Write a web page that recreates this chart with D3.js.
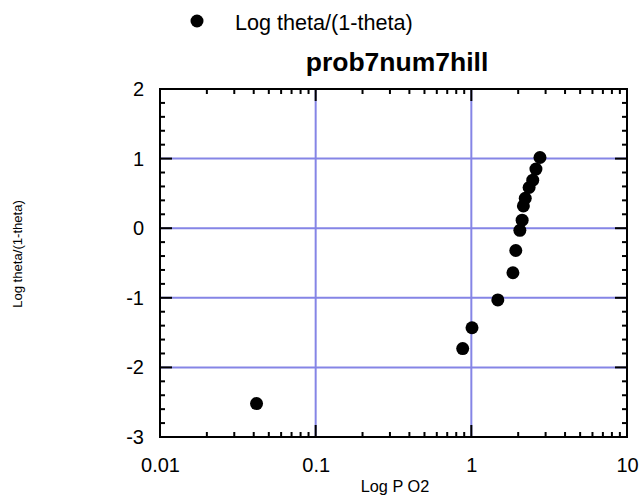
<!DOCTYPE html>
<html><head><meta charset="utf-8">
<script src="https://cdn.jsdelivr.net/npm/d3@7"></script>
<style>body{margin:0;background:#fff}svg{display:block;font-family:Arial,"Liberation Sans",sans-serif}</style>
</head><body>
<script>
const title = "prob7num7hill";
const seriesName = "Log theta/(1-theta)";
const xLabel = "Log P O2";
const yLabel = "Log theta/(1-theta)";
const xValues = [0.0417, 0.88, 1.01, 1.48, 1.85, 1.93, 2.05, 2.12, 2.16, 2.22, 2.35, 2.48, 2.60, 2.76];
const yValues = [-2.52, -1.73, -1.43, -1.03, -0.64, -0.32, -0.03, 0.115, 0.32, 0.43, 0.585, 0.69, 0.85, 1.016];
const xTickValues = [0.01, 0.1, 1, 10];
const xTickLabels = ["0.01", "0.1", "1", "10"];
const yTickValues = [-3, -2, -1, 0, 1, 2];
const yTickLabels = ["-3", "-2", "-1", "0", "1", "2"];

const W = 641, H = 498;
const m = {left: 160, right: 14, top: 89, bottom: 61};
const svg = d3.select("body").append("svg").attr("width", W).attr("height", H);
const x = d3.scaleLog().domain([0.01, 10]).range([m.left, W - m.right]);
const y = d3.scaleLinear().domain([-3, 2]).range([H - m.bottom, m.top]);
const gridColor = "#8585e6";
const FONT = "Arial, 'Liberation Sans', sans-serif";

// grid
svg.append("g").selectAll("line").data([0.1, 1]).join("line")
  .attr("x1", d => x(d)).attr("x2", d => x(d)).attr("y1", y(2)).attr("y2", y(-3))
  .attr("stroke", gridColor).attr("stroke-width", 2);
svg.append("g").selectAll("line").data([-2, -1, 0, 1]).join("line")
  .attr("y1", d => y(d)).attr("y2", d => y(d)).attr("x1", x(0.01)).attr("x2", x(10))
  .attr("stroke", gridColor).attr("stroke-width", 2);

// minor/major ticks
const xMinor = [];
[0.01, 0.1, 1].forEach(b => { for (let k = 2; k <= 9; k++) xMinor.push(b * k); });
const yMinor = d3.range(-3, 2.001, 0.2).map(v => +v.toFixed(1)).filter(v => !yTickValues.includes(v));
const tk = svg.append("g").attr("stroke", "#000").attr("stroke-width", 2);
xMinor.forEach(v => {
  tk.append("line").attr("x1", x(v)).attr("x2", x(v)).attr("y1", y(-3)).attr("y2", y(-3) - 5);
  tk.append("line").attr("x1", x(v)).attr("x2", x(v)).attr("y1", y(2)).attr("y2", y(2) + 5);
});
xTickValues.forEach(v => {
  tk.append("line").attr("x1", x(v)).attr("x2", x(v)).attr("y1", y(-3)).attr("y2", y(-3) - 12);
  tk.append("line").attr("x1", x(v)).attr("x2", x(v)).attr("y1", y(2)).attr("y2", y(2) + 12);
});
yMinor.forEach(v => {
  tk.append("line").attr("y1", y(v)).attr("y2", y(v)).attr("x1", x(0.01)).attr("x2", x(0.01) + 5);
  tk.append("line").attr("y1", y(v)).attr("y2", y(v)).attr("x1", x(10)).attr("x2", x(10) - 5);
});
yTickValues.forEach(v => {
  tk.append("line").attr("y1", y(v)).attr("y2", y(v)).attr("x1", x(0.01)).attr("x2", x(0.01) + 12);
  tk.append("line").attr("y1", y(v)).attr("y2", y(v)).attr("x1", x(10)).attr("x2", x(10) - 12);
});

// frame
svg.append("rect").attr("x", m.left).attr("y", m.top)
  .attr("width", W - m.right - m.left).attr("height", H - m.bottom - m.top)
  .attr("fill", "none").attr("stroke", "#000").attr("stroke-width", 2);

// tick labels via d3 axis
const xAxis = d3.axisBottom(x).tickValues(xTickValues).tickFormat((d, i) => xTickLabels[i]).tickSize(0).tickPadding(21);
const gx = svg.append("g").attr("transform", `translate(0,${y(-3)})`).call(xAxis);
gx.select(".domain").remove();
gx.attr("font-size", 20).attr("font-family", FONT);
gx.selectAll("text").attr("fill", "#000");
const yAxis = d3.axisLeft(y).tickValues(yTickValues).tickFormat((d, i) => yTickLabels[i]).tickSize(0).tickPadding(16);
const gy = svg.append("g").attr("transform", `translate(${x(0.01)},0)`).call(yAxis);
gy.select(".domain").remove();
gy.attr("font-size", 20).attr("font-family", FONT);
gy.selectAll("text").attr("fill", "#000");

// points
svg.append("g").selectAll("circle").data(xValues.map((v, i) => [v, yValues[i]])).join("circle")
  .attr("cx", d => x(d[0])).attr("cy", d => y(d[1])).attr("r", 6.5).attr("fill", "#000");

// title
svg.append("text").attr("x", 397).attr("y", 71).attr("text-anchor", "middle")
  .attr("font-family", FONT)
  .attr("font-size", 26.5).attr("font-weight", "bold").text(title);
// legend
svg.append("circle").attr("cx", 197).attr("cy", 21).attr("r", 6.5).attr("fill", "#000");
svg.append("text").attr("x", 235).attr("y", 30).attr("font-size", 21.6).text(seriesName);
// axis titles
svg.append("text").attr("x", 395).attr("y", 492).attr("text-anchor", "middle").attr("font-size", 16.3).text(xLabel);
svg.append("text").attr("transform", `translate(22,254) rotate(-90)`).attr("text-anchor", "middle").attr("font-size", 13.1).text(yLabel);
</script>
</body></html>
